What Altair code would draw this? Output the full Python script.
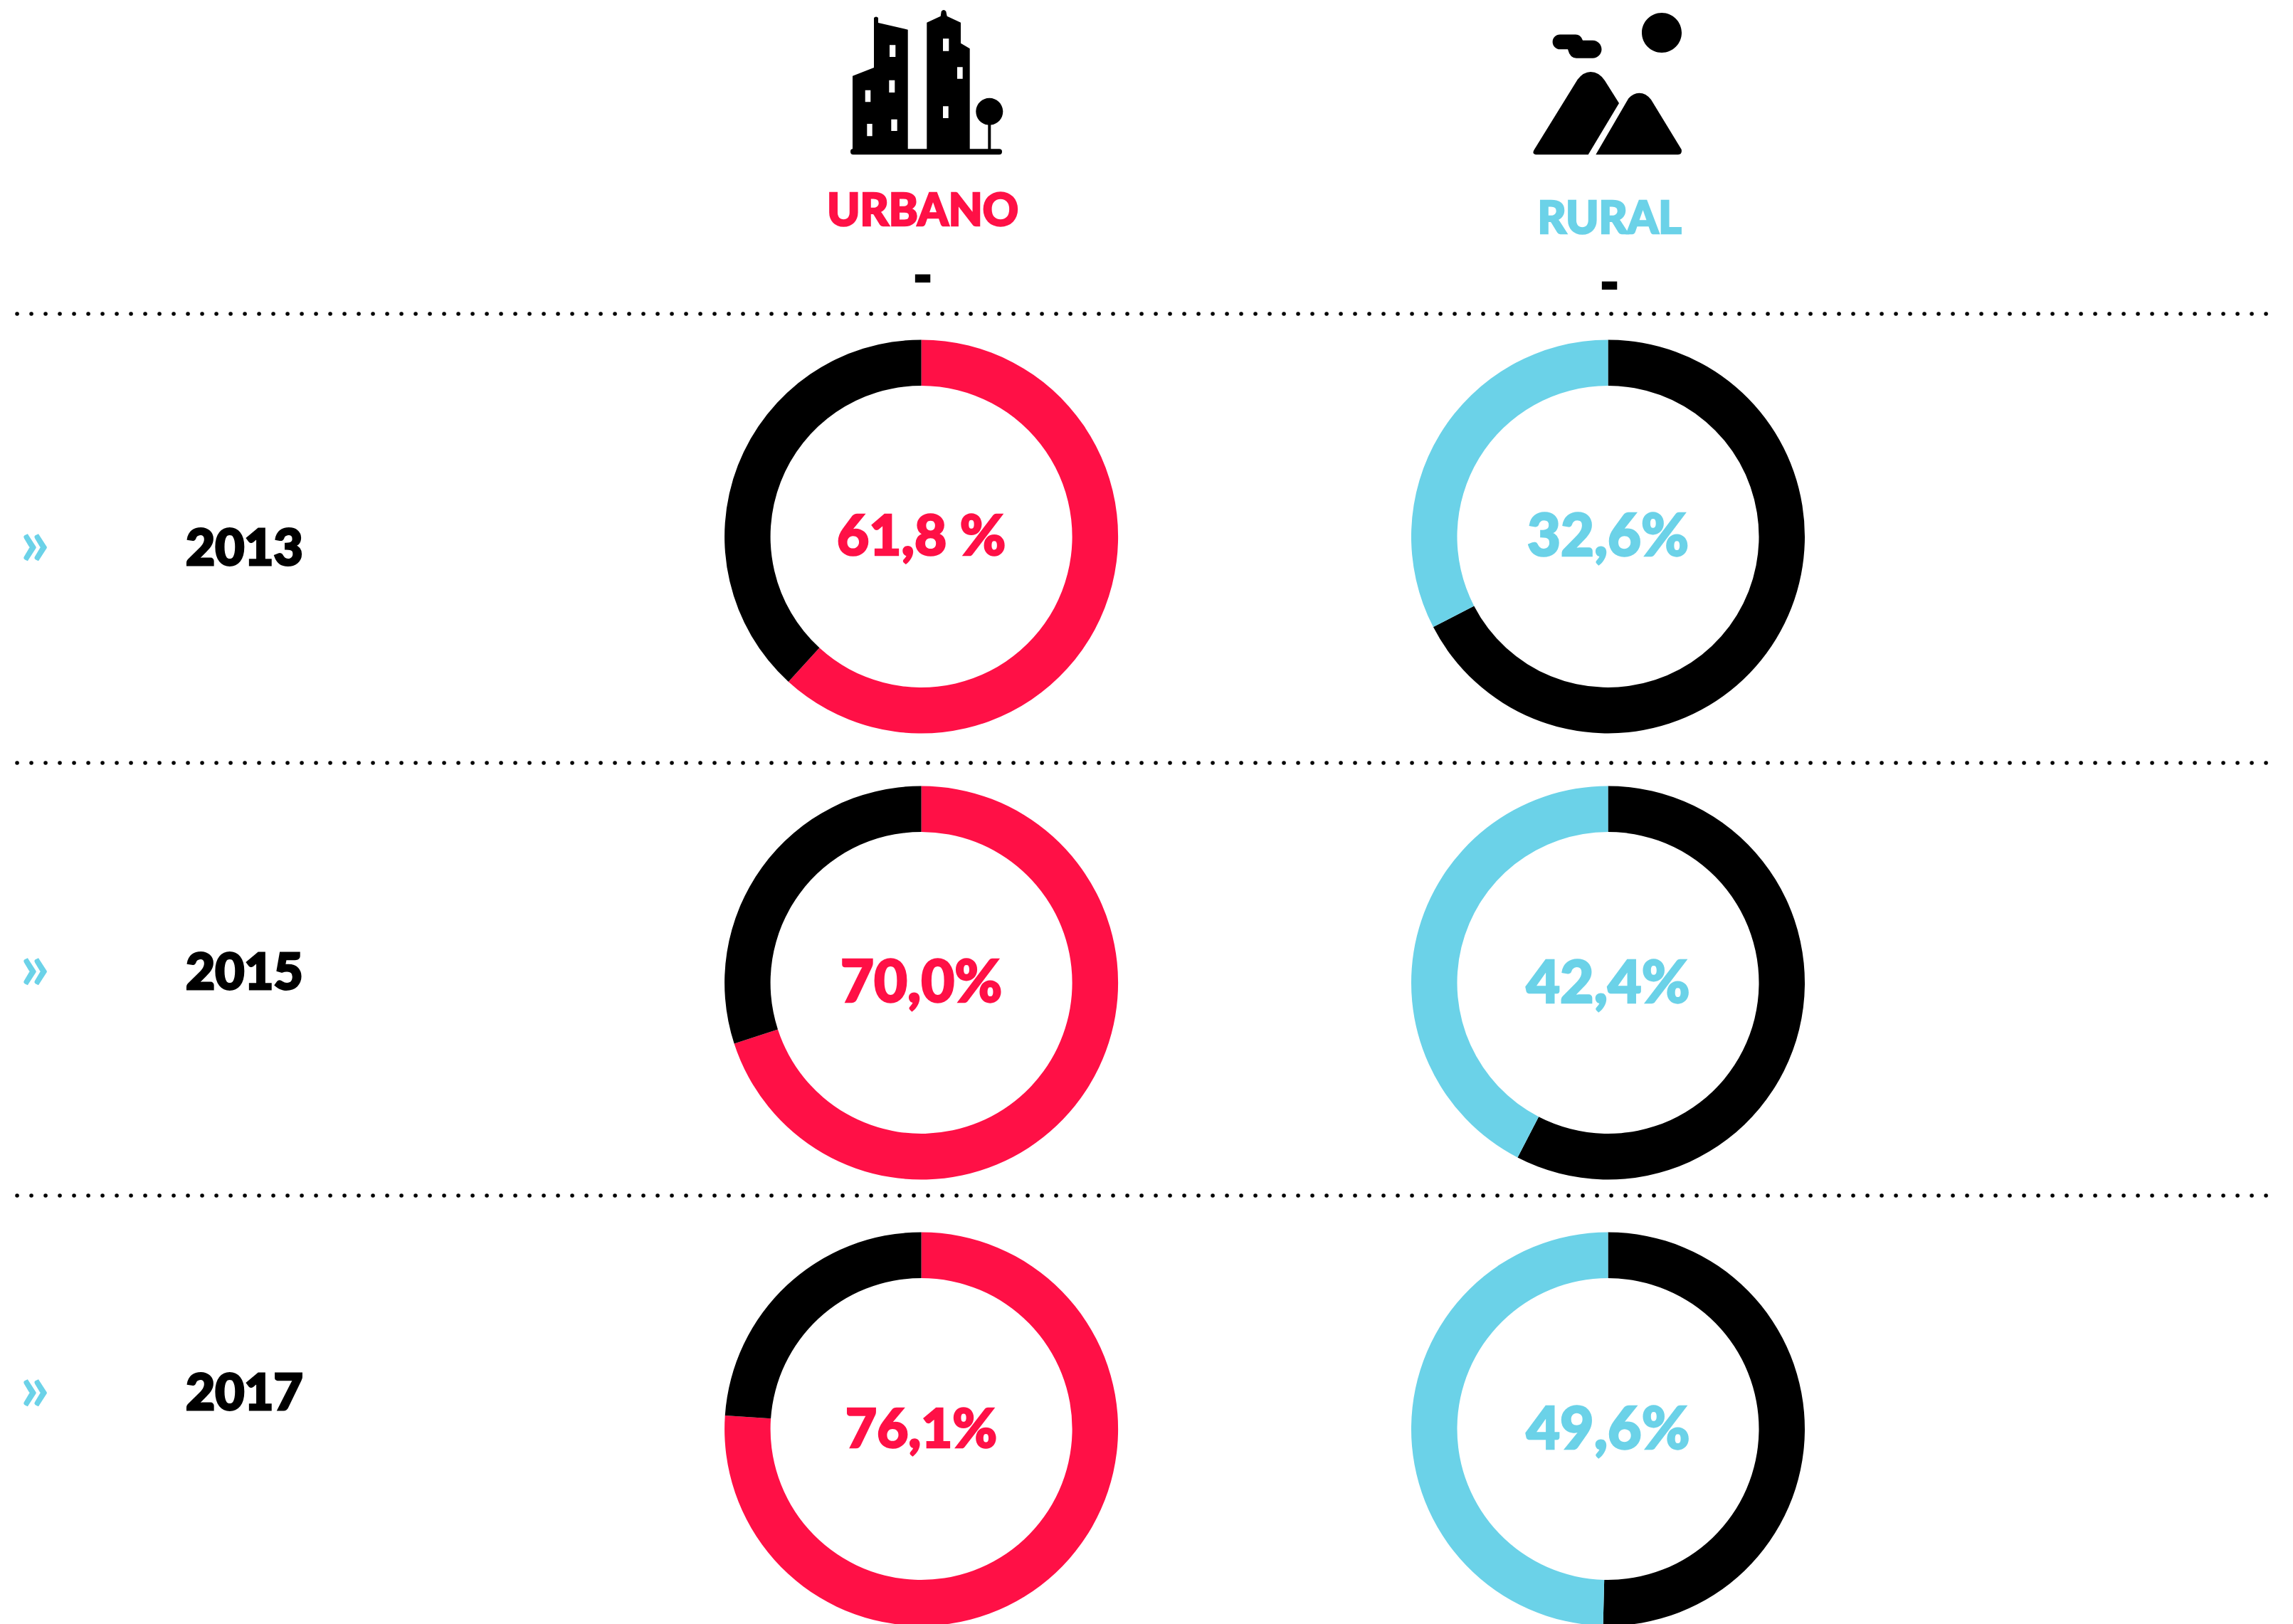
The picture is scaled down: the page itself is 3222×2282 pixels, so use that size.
import altair as alt
import pandas as pd

# ---- values ----
YEARS = [2013, 2015, 2017]
AREAS = ["URBANO", "RURAL"]
URBANO_PCT = [61.8, 70.0, 76.1]
RURAL_PCT = [32.6, 42.4, 49.6]
URBANO_LABELS = ["61,8 %", "70,0%", "76,1%"]
RURAL_LABELS = ["32,6%", "42,4%", "49,6%"]

# ---- styles and layout (reference pixels; the page margin is 8) ----
RED, BLUE, BLACK = "#FF1046", "#6BD2E8", "#000000"
FONT = "Lato"
M = 8
AREA_X = [1294.6, 2259.5]
YEAR_Y = [754, 2008]
OUTER, INNER = 276.5, 212
RULE_Y = [441, 1072, 1680]
RULE_X = [24, 3188]
CHEVRON_X = 49
YEAR_X = 261
YEAR_LABEL_Y = [773, 1369, 1960]
CHEVRON_Y = [766, 1362, 1954]
HEADER_Y = [298, 309]
DASH_Y = [391, 401]
LABEL_SIZES = {"URBANO": [78, 81, 76], "RURAL": [81, 82, 82]}

BUILDINGS = (
    "M1195 213Q1195 209.3 1198 209.3L1198 106.7L1228 95L1228 25Q1231 22 1234 25L1234 32L1275.7 41.7L1275.7 209.3"
    "L1302.3 209.3L1302.3 31.7L1321.7 22.7L1322.7 16Q1326 12 1329.3 16L1330.7 22.7L1350 31.7L1350 60.7"
    "L1362.7 68.3L1362.7 209.3L1388.3 209.3L1388.3 175.6A19 19 0 1 1 1392.3 175.6L1392.3 209.3L1404 209.3"
    "Q1408 209.3 1408 213Q1408 217.3 1404 217.3L1199 217.3Q1195 217.3 1195 213Z"
)
WINDOWS = (
    "M1250 63.3H1258.3V80H1250ZM1325 54.3H1333.3V71.7H1325ZM1345 94.3H1352.7V110.7H1345Z"
    "M1249.3 112.7H1257.3V130H1249.3ZM1215.7 126.7H1223.3V143.3H1215.7ZM1325 149.3H1332.7V166H1325Z"
    "M1252.3 167.7H1260.7V184H1252.3ZM1218.3 174H1225.7V191.3H1218.3Z"
)
LANDSCAPE = (
    "M2307 46A28 28 0 1 1 2363 46A28 28 0 1 1 2307 46Z"
    "M2192 48.5L2214 48.5Q2221 48.5 2224 56.7L2238 56.7A12.5 12.5 0 0 1 2238 81.7L2215 81.7"
    "Q2206 81.7 2203 69.3L2192 69.3A10.4 10.4 0 0 1 2192 48.5Z"
    "M2158 217.3Q2152 216 2156 210L2216.7 111.7Q2225 101 2235 101Q2247 101 2255 113.3L2275 145L2231.7 217.3Z"
    "M2242.3 217.3L2288.3 138.3Q2295 130.7 2303.3 130.7Q2313 130.7 2320 140L2362.7 210Q2364 217 2358 217.3Z"
)

# ---- table built from the arrays above ----
rows, label_rows = [], []
for area, pcts, labels in [("URBANO", URBANO_PCT, URBANO_LABELS), ("RURAL", RURAL_PCT, RURAL_LABELS)]:
    for year, pct, label, fs in zip(YEARS, pcts, labels, LABEL_SIZES[area]):
        if area == "URBANO":
            segs = [(0, pct, "part"), (pct, 100, "rest")]
        else:
            segs = [(0, 100 - pct, "rest"), (100 - pct, 100, "part")]
        for start, end, kind in segs:
            rows.append({"Area": area, "Year": year, "start": start, "end": end, "seg": f"{area}-{kind}"})
        label_rows.append({"Area": area, "Year": year, "label": label, "seg": f"{area}-part", "fs": fs})
df = pd.DataFrame(rows)
labels_df = pd.DataFrame(label_rows)

x_enc = alt.X("Area:N", axis=None, scale=alt.Scale(type="point", domain=AREAS, padding=0,
                                                   range=[v - M for v in AREA_X]))
y_enc = alt.Y("Year:O", axis=None, scale=alt.Scale(type="point", domain=YEARS, padding=0,
                                                   range=[v - M for v in YEAR_Y]))
seg_dom = ["URBANO-part", "URBANO-rest", "RURAL-part", "RURAL-rest"]
seg_col = [RED, BLACK, BLUE, BLACK]
color_enc = alt.Color("seg:N", scale=alt.Scale(domain=seg_dom, range=seg_col), legend=None)

donuts = alt.Chart(df).mark_arc(radius=OUTER, radius2=INNER, strokeWidth=0).encode(
    x=x_enc, y=y_enc,
    theta=alt.Theta("start:Q", scale=alt.Scale(domain=[0, 100]), title=None),
    theta2="end:Q",
    color=color_enc,
)
pct_text = alt.Chart(labels_df).mark_text(
    font=FONT, fontWeight=900, align="center", baseline="middle", strokeWidth=2.5, dy=3
).encode(
    x=x_enc, y=y_enc, text="label:N", color=color_enc, stroke=color_enc,
    size=alt.Size("fs:Q", scale=None, legend=None),
)

one = alt.Data(values=[{}])
layers = [donuts, pct_text]

for ry in RULE_Y:
    layers.append(alt.Chart(one).mark_rule(
        color=BLACK, strokeWidth=5.5, strokeDash=[0.1, 19.9], strokeCap="round"
    ).encode(x=alt.value(RULE_X[0] - M), x2=alt.value(RULE_X[1] - M), y=alt.value(ry - M)))

for year, ly, cy in zip(YEARS, YEAR_LABEL_Y, CHEVRON_Y):
    layers.append(alt.Chart(one).mark_text(
        text=str(year), font=FONT, fontWeight=900, fontSize=71, align="left",
        baseline="middle", color=BLACK, stroke=BLACK, strokeWidth=3
    ).encode(x=alt.value(YEAR_X - M), y=alt.value(ly - M)))
    layers.append(alt.Chart(one).mark_text(
        text="»", font=FONT, fontWeight=700, fontSize=92, align="center",
        baseline="middle", color=BLUE
    ).encode(x=alt.value(CHEVRON_X - M), y=alt.value(cy - M)))

for name, col, ax, hy, dy in zip(AREAS, [RED, BLUE], AREA_X, HEADER_Y, DASH_Y):
    layers.append(alt.Chart(one).mark_text(
        text=name, font=FONT, fontWeight=900, fontSize=62, align="center",
        baseline="middle", color=col, stroke=col, strokeWidth=2.5
    ).encode(x=alt.value(ax + 2 - M), y=alt.value(hy - M)))
    layers.append(alt.Chart(one).mark_text(
        text="-", font=FONT, fontWeight=900, fontSize=66, align="center",
        baseline="middle", color=BLACK, stroke=BLACK, strokeWidth=4
    ).encode(x=alt.value(ax + 2 - M), y=alt.value(dy - M)))

for path, col in [(BUILDINGS, BLACK), (WINDOWS, "#FFFFFF"), (LANDSCAPE, BLACK)]:
    layers.append(alt.Chart(one).mark_point(
        shape=path, size=4, filled=True, fill=col, strokeWidth=0, opacity=1
    ).encode(x=alt.value(-M), y=alt.value(-M)))

chart = alt.layer(*layers).properties(
    width=3206, height=2274, padding=0, background="#FFFFFF",
    autosize=alt.AutoSizeParams(type="none"),
).configure_view(stroke=None)

chart.save("out.html", embed_options={"renderer": "svg", "actions": False})
